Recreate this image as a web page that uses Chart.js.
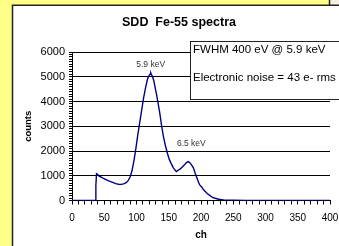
<!DOCTYPE html>
<html>
<head>
<meta charset="utf-8">
<script src="https://cdn.jsdelivr.net/npm/chart.js@4"></script>
<style>
  html, body { margin: 0; padding: 0; background: #ffff88; }
  #wrap { width: 339px; height: 246px; }
</style>
</head>
<body>
<div id="wrap"><canvas id="spectrum" width="339" height="246"></canvas></div>
<script>
// channel numbers and counts
const channels = [0, 36, 37, 38, 40, 42, 45, 48, 52, 56, 60, 64, 68, 72, 76, 80, 84, 87, 90, 93, 96, 99,
  102, 105, 108, 111, 114, 117, 119, 121, 122, 123, 125, 127, 129, 131, 133, 136, 139, 142, 145, 148,
  151, 154, 157, 160, 162, 165, 168, 171, 174, 177, 180, 182, 185, 188, 191, 193, 196, 198, 201, 204,
  207, 210, 214, 218, 222, 226, 230, 235, 240, 250, 270, 300, 350, 400];
const counts = [0, 0, 600, 1080, 1050, 980, 950, 900, 850, 800, 760, 720, 680, 655, 650, 670, 720, 800,
  950, 1200, 1600, 2100, 2650, 3150, 3650, 4150, 4550, 4900, 5020, 5100, 5160, 5100, 5000, 4820, 4550,
  4300, 4000, 3550, 3000, 2550, 2200, 1900, 1650, 1480, 1330, 1220, 1170, 1230, 1280, 1350, 1430, 1520,
  1570, 1540, 1450, 1330, 1100, 960, 750, 630, 550, 430, 350, 270, 195, 130, 90, 60, 40, 25, 15, 10, 5,
  3, 0, 0];

const chartTitle = 'SDD  Fe-55 spectra';
const peakLabels = ['5.9 keV', '6.5 keV'];
const peakLabelCh = [122, 185];
const peakLabelCounts = [5475, 2285];

const noteLines = ['FWHM 400 eV @ 5.9 keV', 'Electronic noise = 43 e- rms'];

const points = channels.map((c, i) => ({ x: c, y: counts[i] }));
const FONT = 'Arial, "Liberation Sans", sans-serif';

const frame = {
  id: 'frame',
  beforeDraw(chart) {
    const ctx = chart.ctx;
    ctx.save();
    ctx.fillStyle = '#ffff88';
    ctx.fillRect(0, 0, 339, 246);
    ctx.fillStyle = '#f6f0e2';
    ctx.fillRect(330, 0, 9, 5);
    ctx.fillStyle = '#ffffff';
    ctx.fillRect(12.5, 5, 330, 250);
    ctx.strokeStyle = '#222';
    ctx.lineWidth = 1.5;
    ctx.beginPath();
    ctx.moveTo(12.5, 250);
    ctx.lineTo(12.5, 5.25);
    ctx.lineTo(339, 5.25);
    ctx.moveTo(329.5, 0);
    ctx.lineTo(329.5, 5);
    ctx.stroke();

    ctx.fillStyle = '#000';
    ctx.font = 'bold 12.5px ' + FONT;
    ctx.textAlign = 'center';
    ctx.textBaseline = 'middle';
    ctx.fillText(chartTitle, 179, 23);
    ctx.restore();
  },
  afterDraw(chart) {
    const ctx = chart.ctx;
    const xs = chart.scales.x, ys = chart.scales.y;
    ctx.save();
    ctx.fillStyle = '#333';
    ctx.font = '8.5px ' + FONT;
    ctx.textAlign = 'center';
    ctx.textBaseline = 'middle';
    peakLabels.forEach((t, i) => {
      ctx.fillText(t, xs.getPixelForValue(peakLabelCh[i]), ys.getPixelForValue(peakLabelCounts[i]));
    });

    // text box
    ctx.fillStyle = '#fff';
    ctx.fillRect(190.5, 41.5, 150, 58);
    ctx.strokeStyle = '#222';
    ctx.lineWidth = 1;
    ctx.strokeRect(190.5, 41.5, 150, 58);
    ctx.fillStyle = '#000';
    ctx.font = '11.5px ' + FONT;
    ctx.textAlign = 'left';
    ctx.fillText(noteLines[0], 193, 49.5);
    ctx.fillText(noteLines[1], 193, 78);
    ctx.restore();
  }
};

new Chart(document.getElementById('spectrum'), {
  type: 'scatter',
  data: {
    datasets: [{
      data: points,
      showLine: true,
      borderColor: '#000080',
      borderWidth: 1.4,
      pointRadius: 0,
      tension: 0
    }]
  },
  options: {
    responsive: false,
    animation: false,
    layout: { padding: { left: 0, right: 9, top: 52, bottom: 0 } },
    plugins: {
      legend: { display: false },
      tooltip: { enabled: false },
      title: { display: false }
    },
    scales: {
      x: {
        type: 'linear',
        min: 0,
        max: 400,
        afterFit: s => { s.height = 45.5; s.paddingLeft = 0; s.paddingRight = 0; },
        ticks: {
          stepSize: 10,
          maxTicksLimit: 100,
          autoSkip: false,
          maxRotation: 0,
          padding: 8,
          color: '#000',
          font: { family: FONT, size: 10 },
          callback: v => (v % 50 === 0 ? v : '')
        },
        grid: { drawOnChartArea: false, tickLength: 4, tickColor: '#000' },
        border: { color: '#000', width: 1 },
        title: {
          display: true,
          text: 'ch',
          color: '#000',
          font: { family: FONT, size: 10, weight: 'bold' },
          padding: { top: 0, bottom: 5 }
        }
      },
      y: {
        min: 0,
        max: 6000,
        afterFit: s => { s.width = 72; },
        ticks: {
          stepSize: 100,
          maxTicksLimit: 100,
          autoSkip: false,
          padding: 4,
          color: '#000',
          font: { family: FONT, size: 11 },
          callback: v => (v % 1000 === 0 ? v : '')
        },
        grid: {
          tickLength: 3,
          tickColor: '#000',
          color: c => (c.tick && c.tick.value % 1000 === 0 ? '#000' : 'rgba(0,0,0,0)')
        },
        border: { color: '#000', width: 1 },
        title: {
          display: true,
          text: 'counts',
          color: '#000',
          font: { family: FONT, size: 9.5, weight: 'bold' },
          padding: { top: 23, bottom: 0 }
        }
      }
    }
  },
  plugins: [frame]
});
</script>
</body>
</html>
